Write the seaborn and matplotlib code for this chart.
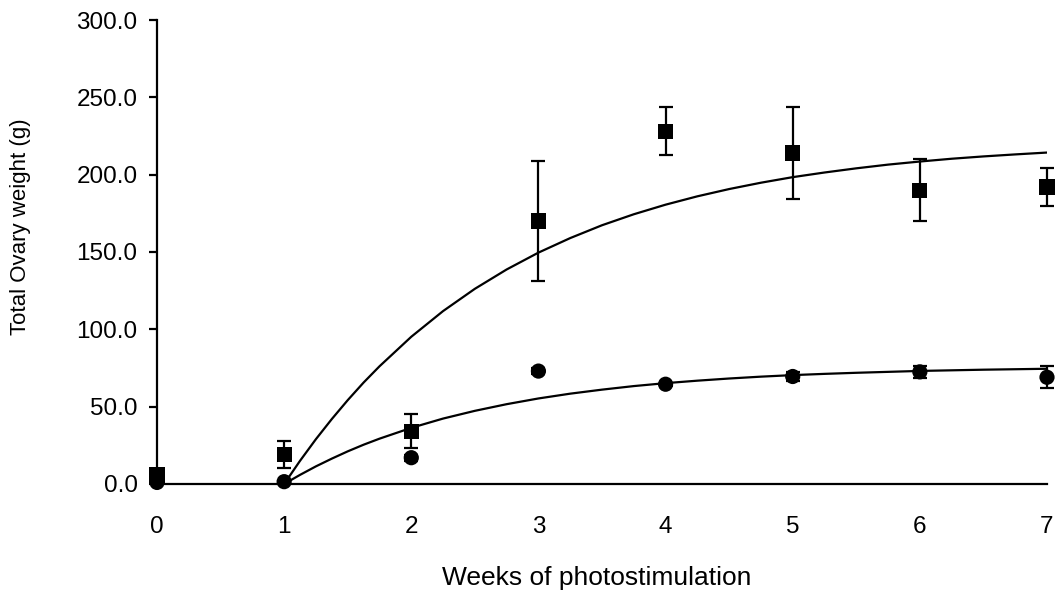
import matplotlib
matplotlib.use("Agg")
import matplotlib.pyplot as plt
import seaborn as sns
import pandas as pd

# Observed means and error bars
weeks = [0, 1, 2, 3, 4, 5, 6, 7]
square_mean = [5.8, 19.0, 34.0, 170.0, 228.0, 214.0, 190.0, 192.0]
square_err = [0.0, 8.5, 11.0, 39.0, 15.5, 30.0, 20.0, 12.0]
circle_mean = [1.0, 1.5, 17.0, 73.0, 64.5, 69.5, 72.5, 69.0]
circle_err = [0.0, 0.0, 2.0, 2.0, 1.0, 3.0, 4.0, 7.0]

# Fitted curves (at close steps)
curve_weeks = [1.0, 1.125, 1.25, 1.375, 1.5, 1.625, 1.75, 2.0, 2.25, 2.5, 2.75, 3.0,
               3.25, 3.5, 3.75, 4.0, 4.25, 4.5, 4.75, 5.0, 5.25, 5.5, 5.75, 6.0,
               6.25, 6.5, 6.75, 7.0]
upper_curve = [0.0, 15.0, 29.0, 42.0, 54.2, 65.6, 76.1, 95.2, 111.8, 126.2, 138.7,
               149.6, 159.0, 167.3, 174.4, 180.6, 186.0, 190.7, 194.8, 198.4, 201.4,
               204.1, 206.5, 208.5, 210.3, 211.8, 213.1, 214.3]
lower_curve = [0.0, 5.9, 11.4, 16.4, 21.1, 25.4, 29.3, 36.3, 42.3, 47.3, 51.6, 55.3,
               58.4, 61.0, 63.3, 65.2, 66.8, 68.2, 69.4, 70.4, 71.2, 71.9, 72.5, 73.1,
               73.5, 73.9, 74.2, 74.5]

y_ticks = [0, 50, 100, 150, 200, 250, 300]
y_tick_labels = ["0.0", "50.0", "100.0", "150.0", "200.0", "250.0", "300.0"]
x_ticks = [0, 1, 2, 3, 4, 5, 6, 7]

sns.set_style("ticks")
plt.rcParams['font.family'] = ['Liberation Sans', 'DejaVu Sans']
plt.rcParams['text.color'] = 'black'
plt.rcParams['axes.labelcolor'] = 'black'

fig = plt.figure(figsize=(10.58, 6.01), dpi=100)
ax = fig.add_axes([0.1484, 0.1947, 0.8412, 0.772])

curves = pd.DataFrame({"week": curve_weeks + curve_weeks,
                       "value": upper_curve + lower_curve,
                       "fit": ["upper"] * len(curve_weeks) + ["lower"] * len(curve_weeks)})
sns.lineplot(data=curves, x="week", y="value", units="fit", estimator=None,
             color="black", linewidth=1.6, ax=ax, zorder=2, legend=False)

ax.errorbar(weeks, circle_mean, yerr=circle_err, fmt="none", ecolor="black",
            elinewidth=1.6, capsize=5, capthick=1.6, zorder=3, clip_on=False)
ax.errorbar(weeks, square_mean, yerr=square_err, fmt="none", ecolor="black",
            elinewidth=1.6, capsize=5, capthick=1.6, zorder=3, clip_on=False)

pts = pd.DataFrame({"week": weeks + weeks,
                    "value": circle_mean + square_mean,
                    "group": ["circle"] * len(weeks) + ["square"] * len(weeks)})
sns.scatterplot(data=pts, x="week", y="value", style="group",
                markers={"circle": "o", "square": "s"}, color="black",
                s=120, edgecolor="black", linewidth=0, ax=ax, zorder=4,
                legend=False, clip_on=False)

ax.set_xlim(0, 7)
ax.set_ylim(0, 300)
ax.set_xticks(x_ticks)
ax.set_xticklabels([str(v) for v in x_ticks])
ax.set_yticks(y_ticks)
ax.set_yticklabels(y_tick_labels)
ax.tick_params(axis="x", length=0, pad=23, labelsize=17.5, colors="black")
ax.tick_params(axis="y", length=6, width=1.6, pad=8, labelsize=17.5, colors="black")
sns.despine(ax=ax)
for s in ["left", "bottom"]:
    ax.spines[s].set_linewidth(1.6)
    ax.spines[s].set_color("black")

ax.set_xlabel("Weeks of photostimulation", fontsize=19, color="black")
ax.xaxis.set_label_coords(0.4938, -0.2026)
ax.xaxis.label.set_va("center")
ax.set_ylabel("Total Ovary weight (g)", fontsize=16, color="black")
ax.yaxis.set_label_coords(-0.1539, 0.555)
ax.yaxis.label.set_va("center")

fig.savefig("out.png", dpi=100)
